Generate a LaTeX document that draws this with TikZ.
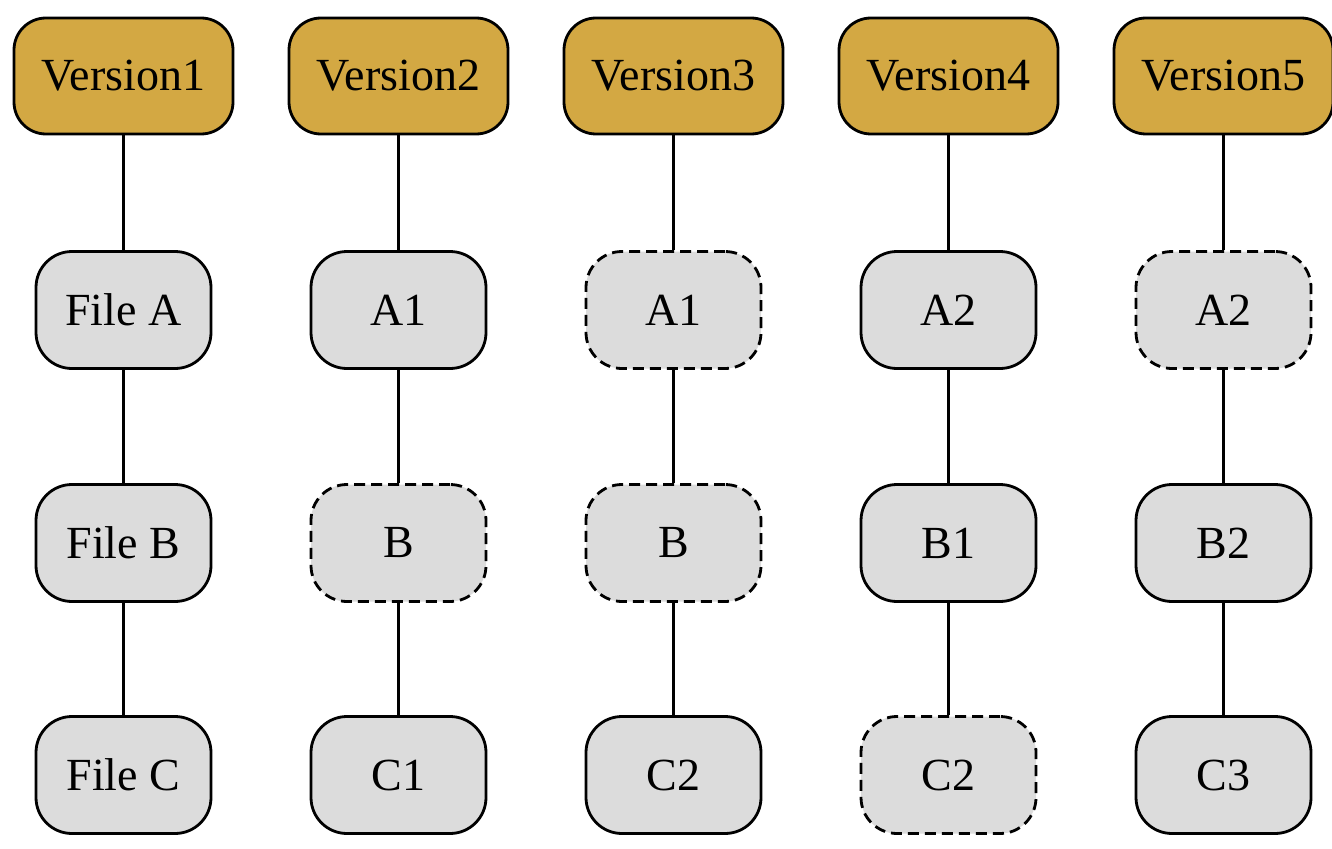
\documentclass[tikz,border=0pt]{standalone}
\usepackage{fontspec}
\setmainfont{Liberation Serif}
\definecolor{gold}{HTML}{D3A843}
\definecolor{boxgray}{HTML}{DCDCDC}
\tikzset{
  base/.style={draw=black, line width=2.8pt, rounded corners=32pt, inner sep=0pt,
    font=\fontsize{46}{52}\selectfont, text=black},
  verbox/.style={base, fill=gold, minimum width=219pt, minimum height=116pt},
  filebox/.style={base, fill=boxgray, minimum width=175pt, minimum height=117pt, rounded corners=36pt},
  refbox/.style={filebox, dash pattern=on 11pt off 6pt},
  link/.style={draw=black, line width=2.8pt}
}
\begin{document}
\begin{tikzpicture}[x=1pt,y=-1pt]
\useasboundingbox (0,0) rectangle (1332,848);
% column 1
\node[verbox]  (v1) at (123.5,76) {Version1};
\node[filebox] (a1) at (123.5,310) {File A};
\node[filebox] (b1) at (123.5,543) {File B};
\node[filebox] (c1) at (123.5,775) {File C};
% column 2
\node[verbox]  (v2) at (398.5,76) {Version2};
\node[filebox] (a2) at (398.5,310) {A1};
\node[refbox]  (b2) at (398.5,543) {B};
\node[filebox] (c2) at (398.5,775) {C1};
% column 3
\node[verbox]  (v3) at (673.5,76) {Version3};
\node[refbox]  (a3) at (673.5,310) {A1};
\node[refbox]  (b3) at (673.5,543) {B};
\node[filebox] (c3) at (673.5,775) {C2};
% column 4
\node[verbox]  (v4) at (948.5,76) {Version4};
\node[filebox] (a4) at (948.5,310) {A2};
\node[filebox] (b4) at (948.5,543) {B1};
\node[refbox]  (c4) at (948.5,775) {C2};
% column 5
\node[verbox]  (v5) at (1223.5,76) {Version5};
\node[refbox]  (a5) at (1223.5,310) {A2};
\node[filebox] (b5) at (1223.5,543) {B2};
\node[filebox] (c5) at (1223.5,775) {C3};
\foreach \i in {1,...,5} {
  \draw[link] (v\i.south) -- (a\i.north);
  \draw[link] (a\i.south) -- (b\i.north);
  \draw[link] (b\i.south) -- (c\i.north);
}
\end{tikzpicture}
\end{document}
